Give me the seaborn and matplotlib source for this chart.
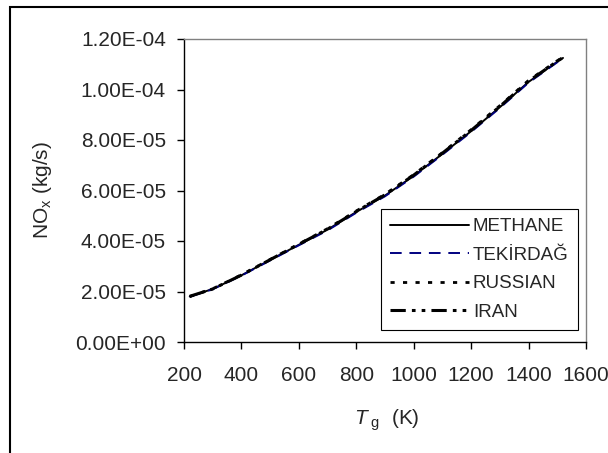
import matplotlib
matplotlib.use("Agg")
import matplotlib.pyplot as plt
import seaborn as sns
import pandas as pd
from matplotlib.patches import Rectangle

# Data
T_g = [220, 300, 400, 500, 600, 700, 800, 900, 1000, 1100, 1200, 1300, 1400, 1500, 1520]
methane = [1.80e-5, 2.10e-5, 2.64e-5, 3.25e-5, 3.85e-5, 4.45e-5, 5.15e-5, 5.80e-5,
           6.58e-5, 7.45e-5, 8.35e-5, 9.30e-5, 1.030e-4, 1.110e-4, 1.125e-4]
tekirdag = [1.79e-5, 2.09e-5, 2.63e-5, 3.23e-5, 3.83e-5, 4.42e-5, 5.12e-5, 5.77e-5,
            6.55e-5, 7.42e-5, 8.32e-5, 9.27e-5, 1.027e-4, 1.108e-4, 1.123e-4]
russian = [1.80e-5, 2.11e-5, 2.66e-5, 3.27e-5, 3.88e-5, 4.49e-5, 5.19e-5, 5.85e-5,
           6.63e-5, 7.50e-5, 8.41e-5, 9.36e-5, 1.036e-4, 1.114e-4, 1.128e-4]
iran = [1.81e-5, 2.10e-5, 2.65e-5, 3.26e-5, 3.87e-5, 4.47e-5, 5.17e-5, 5.83e-5,
        6.61e-5, 7.48e-5, 8.38e-5, 9.33e-5, 1.033e-4, 1.112e-4, 1.127e-4]
series_names = ["METHANE", "TEKİRDAĞ", "RUSSIAN", "IRAN"]
x_ticks = [200, 400, 600, 800, 1000, 1200, 1400, 1600]
y_ticks = [0, 2e-5, 4e-5, 6e-5, 8e-5, 1.0e-4, 1.2e-4]
y_tick_labels = ["0.00E+00", "2.00E-05", "4.00E-05", "6.00E-05", "8.00E-05", "1.00E-04", "1.20E-04"]

sns.set_style("white")
plt.rcParams["font.family"] = ["Liberation Sans", "DejaVu Sans"]
plt.rcParams["mathtext.fontset"] = "custom"
plt.rcParams["mathtext.rm"] = "Liberation Sans"
plt.rcParams["mathtext.it"] = "Liberation Sans:italic"

fig = plt.figure(figsize=(6.08, 4.53), dpi=100)
W, H = 608, 453
ax = fig.add_axes([184 / W, 1 - 342 / H, (586 - 184) / W, (342 - 39) / H])

df = pd.DataFrame({"T": T_g, "METHANE": methane, "TEKİRDAĞ": tekirdag,
                   "RUSSIAN": russian, "IRAN": iran})

styles = {
    "METHANE": dict(color="black", linestyle="-", linewidth=1.4),
    "TEKİRDAĞ": dict(color="#000080", linestyle=(0, (6, 4)), linewidth=1.4),
    "RUSSIAN": dict(color="black", linestyle=(0, (1.5, 3)), linewidth=2.0),
    "IRAN": dict(color="black", linestyle=(0, (5, 2, 1.2, 2, 1.2, 2)), linewidth=2.2),
}
for name in series_names:
    sns.lineplot(data=df, x="T", y=name, ax=ax, label=name, **styles[name])

ax.set_xlim(200, 1600)
ax.set_ylim(0, 1.2e-4)
ax.set_xticks(x_ticks)
ax.set_xticklabels([str(v) for v in x_ticks])
ax.set_yticks(y_ticks)
ax.set_yticklabels(y_tick_labels)
ax.tick_params(axis="both", which="both", direction="out", length=5, width=1,
               color="black", labelsize=15)
ax.tick_params(axis="x", bottom=True, top=False, pad=12)
ax.tick_params(axis="y", left=True, right=False, pad=8)

for s in ["left", "bottom"]:
    ax.spines[s].set_color("black")
    ax.spines[s].set_linewidth(1.0)
for s in ["top", "right"]:
    ax.spines[s].set_color("#808080")
    ax.spines[s].set_linewidth(1.0)

ax.set_xlabel(r"$\mathit{T}_{\ \mathrm{g}}$  (K)", fontsize=15, va="center", ha="center")
ax.set_ylabel(r"NO$_{\mathrm{x}}$ (kg/s)", fontsize=15, va="center", ha="center")
ax.xaxis.set_label_coords((387 - 184) / 402, (342 - 420) / 303)
ax.yaxis.set_label_coords((43 - 184) / 402, (342 - 190) / 303)

leg = ax.legend(loc="lower right", bbox_to_anchor=(0.98, 0.04), fontsize=13.5,
                frameon=True, fancybox=False, edgecolor="black", framealpha=1,
                handlelength=4.2, handletextpad=0.2, labelspacing=0.6,
                borderpad=0.5, borderaxespad=0)
leg.get_frame().set_linewidth(0.8)

# outer chart frame
fig.patches.append(Rectangle((10 / W, -0.1), 1.2, 1 - 7 / H + 0.1,
                             transform=fig.transFigure, fill=False,
                             edgecolor="black", linewidth=1.5, zorder=0))

fig.savefig("out.png", dpi=100)
